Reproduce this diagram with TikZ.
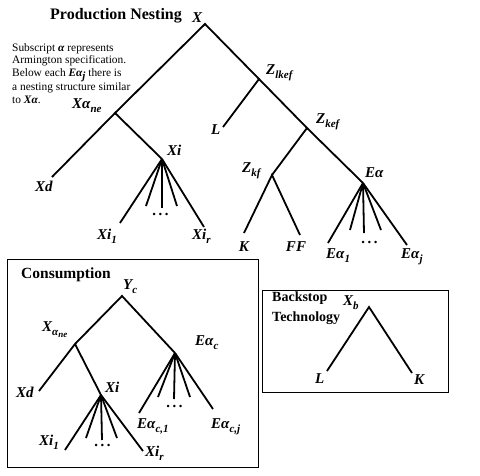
\documentclass[tikz,border=0pt]{standalone}
\usepackage{fontspec}
\setmainfont{Liberation Serif}
\usetikzlibrary{positioning}
\newcommand{\lsub}[1]{\raisebox{-0.3em}{\fontsize{11}{11}\selectfont #1}}
\tikzset{
  lbl/.style={font=\fontsize{15}{15}\selectfont\bfseries\itshape, inner sep=0pt, anchor=base west},
  hdr/.style={font=\bfseries, inner sep=0pt, anchor=base west},
  branch/.style={line width=1.8pt},
  frame/.style={line width=1pt},
}

\begin{document}
\begin{tikzpicture}[x=1pt,y=-1pt]
			\useasboundingbox (0,0) rectangle (480,475);
			%%%%% PRODUCTION %%%%%
			
			\node[hdr, font=\fontsize{16}{16}\selectfont\bfseries] (prodtitle) at (50,19) {Production Nesting};
			\node[align=left, anchor=north west, inner sep=0pt, font=\fontsize{11.4}{12.5}\selectfont] (note) at (12,43)
			{Subscript \textbf{\textit{α}} represents\\ Armington specification.\\ Below each \textbf{\textit{Eα\lsub{j}}} there is\\ a nesting structure similar\\ to \textbf{\textit{Xα}}.};
			
			\coordinate (X) at (205,24);
			\coordinate (Xa) at (115,113);
			\coordinate (Xd) at (52,177);
			\coordinate (Xi) at (162,159);
			\coordinate (Xi1) at (120,223);
			\coordinate (Xia) at (146,206);
			\coordinate (Xib) at (162,208);
			\coordinate (Xic) at (177,206);
			\coordinate (Xir) at (204,227);
			\coordinate (Zlkef) at (259,79);
			\coordinate (L) at (223,127);
			\coordinate (Zkef) at (307,128);
			\coordinate (Zkf) at (272,175);
			\coordinate (K) at (244,233);
			\coordinate (FF) at (300,235);
			\coordinate (Ea) at (363,183);
			\coordinate (Ea1) at (328,243);
			\coordinate (Eaa) at (350,230);
			\coordinate (Eab) at (364,233);
			\coordinate (Eac) at (381,230);
			\coordinate (Eaj) at (407,245);
			
			\node[lbl] (lX) at (192,22) {X};
			\node[lbl] (lXa) at (72,108) {Xα\lsub{ne}};
			\node[lbl] (lXd) at (35,191) {Xd};
			\node[lbl] (lXi) at (167,155) {Xi};
			\node[lbl] (lXi1) at (97,239) {Xi\lsub{1}};
			\node[lbl, anchor=center] (lXidots) at (161,214) {.\,.\,.};
			\node[lbl] (lXir) at (192,239) {Xi\lsub{r}};
			\node[lbl] (lZlkef) at (266,74) {Z\lsub{lkef}};
			\node[lbl] (lL) at (211,134) {L};
			\node[lbl] (lZkef) at (316,123) {Z\lsub{kef}};
			\node[lbl] (lZkf) at (242,172) {Z\lsub{kf}};
			\node[lbl, anchor=base] (lK) at (244,251) {K};
			\node[lbl, anchor=base] (lFF) at (296,251) {FF};
			\node[lbl] (lEa) at (365,177) {Eα};
			\node[lbl] (lEa1) at (326,258) {Eα\lsub{1}};
			\node[lbl, anchor=center] (lEadots) at (370,242) {.\,.\,.};
			\node[lbl] (lEaj) at (401,258) {Eα\lsub{j}};
			
			\draw[branch] (Xd) -- (Xa) -- (X) -- (Zlkef) -- (Zkef) -- (Ea);
			\draw[branch] (Xa) -- (Xi);
			\draw[branch] (L) -- (Zlkef);
			\draw[branch] (Zkef) -- (Zkf);
			\draw[branch] (K) -- (Zkf) -- (FF);
			\foreach \leaf in {Xi1,Xia,Xib,Xic,Xir}
				\draw[branch] (Xi) -- (\leaf);
			\foreach \leaf in {Ea1,Eaa,Eab,Eac,Eaj}
				\draw[branch] (Ea) -- (\leaf);
			
			%%%%% CONSUMPTION %%%%%
			
			\draw[frame] (7,259) rectangle (258,467);
			\node[hdr, font=\fontsize{15.5}{15.5}\selectfont\bfseries] (constitle) at (21,278) {Consumption};
			
			\coordinate (Yc) at (122,296);
			\coordinate (cXa) at (75,344);
			\coordinate (cXd) at (39,391);
			\coordinate (cXi) at (101,395);
			\coordinate (cXi1) at (65,450);
			\coordinate (cXia) at (86,438);
			\coordinate (cXib) at (102,440);
			\coordinate (cXic) at (117,438);
			\coordinate (cXir) at (143,451);
			\coordinate (cEa) at (175,353);
			\coordinate (cEa1) at (139,413);
			\coordinate (cEaa) at (158,397);
			\coordinate (cEab) at (174,399);
			\coordinate (cEac) at (190,397);
			\coordinate (cEaj) at (213,409);
			
			\node[lbl] (lYc) at (123,289) {Y\lsub{c}};
			\node[lbl] (lcXa) at (42,331) {X\lsub{α\raisebox{-0.2em}{\fontsize{9}{9}\selectfont ne}}};
			\node[lbl] (lcXd) at (16,397) {Xd};
			\node[lbl] (lcXi) at (105,392) {Xi};
			\node[lbl] (lcXi1) at (39,445) {Xi\lsub{1}};
			\node[lbl, anchor=center] (lcXidots) at (103,445) {.\,.\,.};
			\node[lbl] (lcXir) at (145,456) {Xi\lsub{r}};
			\node[lbl] (lcEa) at (195,345) {Eα\lsub{c}};
			\node[lbl] (lcEa1) at (137,428) {Eα\lsub{c,1}};
			\node[lbl, anchor=center] (lcEadots) at (175,406) {.\,.\,.};
			\node[lbl] (lcEaj) at (211,428) {Eα\lsub{c,j}};
			
			\draw[branch] (cXd) -- (cXa) -- (Yc) -- (cEa);
			\draw[branch] (cXa) -- (cXi);
			\foreach \leaf in {cXi1,cXia,cXib,cXic,cXir}
				\draw[branch] (cXi) -- (\leaf);
			\foreach \leaf in {cEa1,cEaa,cEab,cEac,cEaj}
				\draw[branch] (cEa) -- (\leaf);
			
			%%%%% BACKSTOP %%%%%
			
			\draw[frame] (262,290) rectangle (448,392);
			\node[hdr, align=left, anchor=north west, font=\fontsize{14}{20}\selectfont\bfseries] (bstitle) at (272,292) {Backstop\\Technology};
			
			\coordinate (Xb) at (369,307);
			\coordinate (bL) at (327,371);
			\coordinate (bK) at (412,373);
			
			\node[lbl] (lXb) at (343,305) {X\lsub{b}};
			\node[lbl] (lbL) at (315,383) {L};
			\node[lbl] (lbK) at (414,384) {K};
			
			\draw[branch] (bL) -- (Xb) -- (bK);
			
			%%%%% END %%%%%
\end{tikzpicture}
\end{document}
